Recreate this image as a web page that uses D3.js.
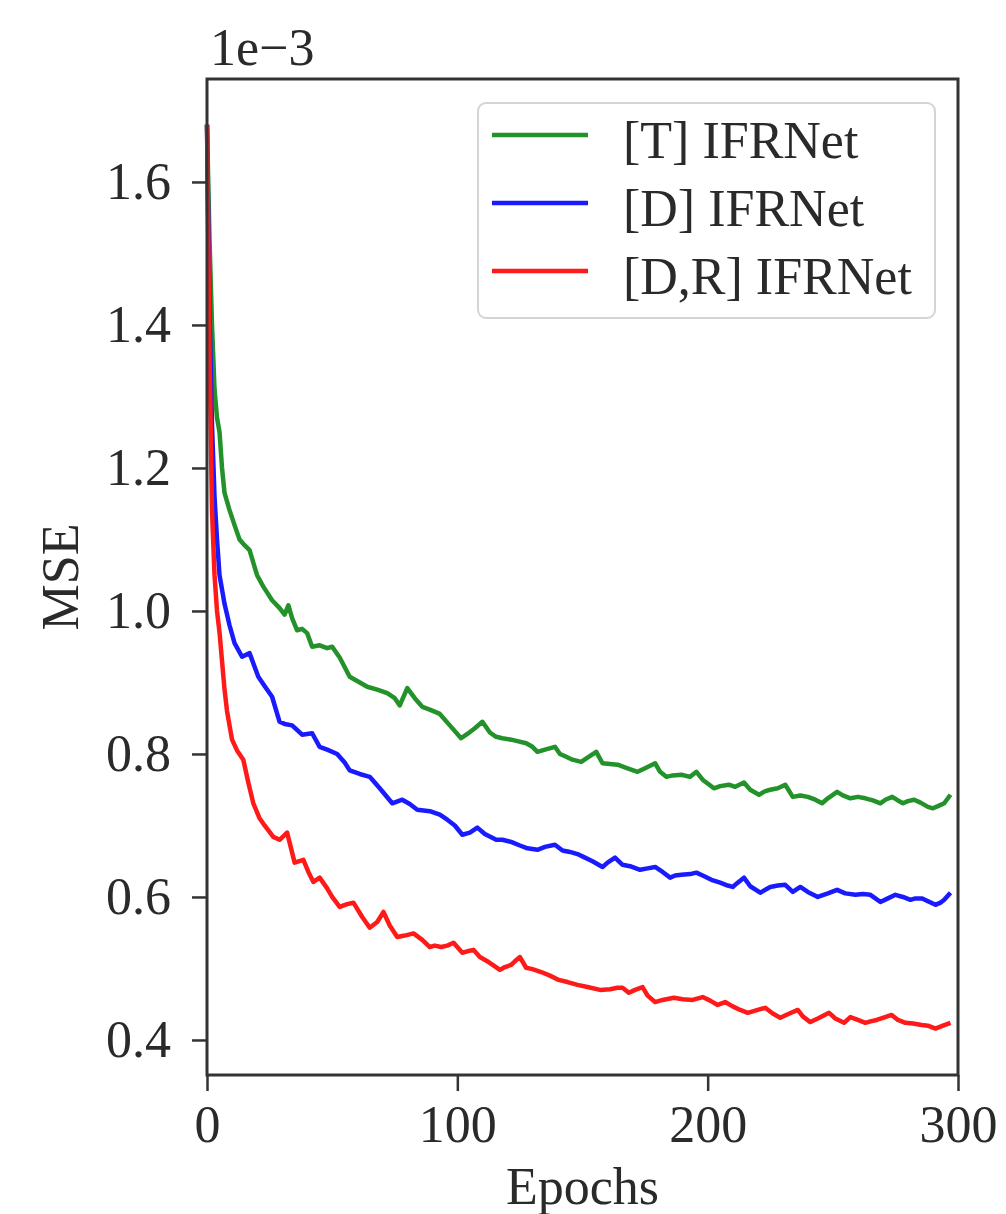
<html>
<head>
<meta charset="utf-8">
<script src="https://d3js.org/d3.v7.min.js"></script>
<style>
body { margin: 0; background-color: white; }
svg { font-family: 'Liberation Serif', 'DejaVu Serif', serif; }
</style>
</head>
<body>
<svg id="svg"></svg>
<script>

// series names + colours (matplotlib g / b / r)
var seriesNames = ["[T] IFRNet", "[D] IFRNet", "[D,R] IFRNet"];
var seriesColors = ["#23922a", "#1a1aff", "#ff1a1a"];

var xTicks = [0, 100, 200, 300];
var yTicks = [0.4, 0.6, 0.8, 1.0, 1.2, 1.4, 1.6];
var yTickLabels = ["0.4", "0.6", "0.8", "1.0", "1.2", "1.4", "1.6"];

// MSE in units of 1e-3
var epochsT = [0,1,2,3,4,5,6,7,9,11,13,15,17,20,22.5,26,29,31,32.5,34,36,38,40,42,45,48,50,53,57,60,64,68,72,75,77,80,83,86,89,93,97,101.5,104,107,110,113,115.5,118,121.5,124,127.5,130,132,135,139,141,143.5,146,149.5,152,155.5,158,161,164,168,172,175,179,181,183.5,186,189.5,193,195.5,198,202.5,205,208.5,211,214.5,217,220.5,223,225,228,231,234,237,240,243,245.7,248,251.7,254,257,260,263,266,269,271,273.7,276,278,280,282.5,285,288,290,292,294.5,297];
var mseT = [1.68,1.52,1.40,1.31,1.27,1.25,1.20,1.165,1.141,1.12,1.10,1.092,1.085,1.05,1.034,1.015,1.004,0.995,1.008,0.99,0.973,0.975,0.969,0.95,0.952,0.948,0.95,0.935,0.908,0.902,0.894,0.89,0.885,0.878,0.868,0.892,0.878,0.866,0.862,0.856,0.84,0.822,0.828,0.836,0.845,0.83,0.824,0.822,0.82,0.818,0.815,0.81,0.803,0.806,0.81,0.80,0.796,0.792,0.789,0.795,0.803,0.787,0.786,0.785,0.78,0.775,0.78,0.787,0.775,0.768,0.77,0.771,0.768,0.775,0.764,0.752,0.755,0.757,0.754,0.760,0.75,0.743,0.748,0.750,0.752,0.757,0.740,0.742,0.740,0.736,0.731,0.738,0.747,0.742,0.738,0.740,0.738,0.735,0.731,0.736,0.740,0.735,0.731,0.734,0.736,0.732,0.726,0.724,0.727,0.731,0.743];

var epochsD = [0,1,2,3,4,5,7,9,11,14,17,20.5,23,26,29,31,34,38,42,45,48,52,55,57,61,65,69,74,78,81,84,89,93,96,99,102,105,108,111,115.5,118,121.5,125,128,132,135,139,142,145,148,151,154,158,160,163,166,169,173,176,179,182,185,187,189.5,193,195.5,198,201.5,205,208,210,212,214.5,217,221,223,225,228,231,234,237,240,244,248,251.7,255,259,262,265,267,269,272,275,278,281,283,285.7,288,291,293,294.5,297];
var mseD = [1.68,1.42,1.26,1.16,1.10,1.05,1.01,0.98,0.955,0.936,0.941,0.908,0.895,0.88,0.845,0.842,0.84,0.827,0.829,0.81,0.806,0.80,0.788,0.777,0.772,0.768,0.752,0.731,0.736,0.73,0.722,0.72,0.715,0.708,0.70,0.687,0.69,0.697,0.688,0.680,0.68,0.677,0.672,0.668,0.666,0.67,0.673,0.665,0.663,0.66,0.655,0.65,0.642,0.648,0.655,0.645,0.643,0.638,0.64,0.642,0.635,0.627,0.63,0.631,0.632,0.634,0.63,0.624,0.62,0.616,0.614,0.62,0.627,0.615,0.606,0.61,0.614,0.616,0.617,0.607,0.614,0.607,0.600,0.605,0.610,0.605,0.603,0.604,0.603,0.598,0.593,0.598,0.603,0.6,0.596,0.598,0.598,0.594,0.589,0.592,0.596,0.606];

var epochsDR = [0,1,2,3,4,5,6,7,8,10,12,14.5,16.5,18.5,21,23,26.5,29,32,35,38.5,40.5,42.5,45,48,50,53,56,58.5,62,65,68,70.5,73,76,79,82.5,86,89,91,93.5,96,98.5,102,104,106.5,109,112.5,115,117,119,121.5,123,125,127.5,130,133.5,137,140.5,144,148,152,157,161,164,166,168.5,171,174,176,179,182,186.5,190,194,198,201,204,207,210,213,216,220,223,226,229,232,236,238,241,244,248.5,251,254.5,257,260,263,265,267.5,270,273.5,276,279,282,285.5,288,291,294,297];
var mseDR = [1.68,1.36,1.14,1.05,1.00,0.97,0.93,0.89,0.86,0.82,0.805,0.792,0.76,0.731,0.71,0.70,0.684,0.68,0.69,0.648,0.652,0.635,0.621,0.627,0.612,0.6,0.586,0.59,0.592,0.572,0.557,0.565,0.579,0.56,0.544,0.546,0.549,0.54,0.53,0.532,0.53,0.532,0.536,0.522,0.524,0.526,0.516,0.509,0.503,0.498,0.502,0.505,0.51,0.516,0.501,0.499,0.495,0.49,0.484,0.481,0.477,0.474,0.470,0.471,0.473,0.473,0.466,0.47,0.474,0.462,0.453,0.456,0.459,0.457,0.456,0.460,0.455,0.449,0.453,0.447,0.442,0.438,0.442,0.445,0.437,0.431,0.436,0.442,0.433,0.425,0.43,0.438,0.43,0.424,0.432,0.428,0.424,0.426,0.428,0.431,0.435,0.428,0.424,0.423,0.421,0.42,0.416,0.42,0.424];

var allEpochs = [epochsT, epochsD, epochsDR];
var allMse = [mseT, mseD, mseDR];

var width = 1006, height = 1214;
var margin = {left: 207, right: 48, top: 79, bottom: 139};
var fs = 52;

var svg = d3.select("#svg").attr("width", width).attr("height", height);

var x = d3.scaleLinear().domain([0, 300]).range([margin.left, width - margin.right]);
var y = d3.scaleLinear().domain([0.351, 1.744]).range([height - margin.bottom, margin.top]);

var line = d3.line()
	.x(function(d){ return x(d[0]); })
	.y(function(d){ return y(d[1]); });

// curves
for (var i = 0; i < allMse.length; i++) {
	var pts = allEpochs[i].map(function(e, j){ return [e, allMse[i][j]]; });
	svg.append("path")
		.datum(pts)
		.attr("d", line)
		.style("fill", "none")
		.style("stroke", seriesColors[i])
		.style("stroke-width", 4.5)
		.style("stroke-linejoin", "round");
}

// axes (ticks only, labels drawn by hand)
var xAxis = svg.append("g")
	.attr("transform", "translate(0," + (height - margin.bottom) + ")")
	.call(d3.axisBottom(x).tickValues(xTicks).tickSize(16).tickPadding(14).tickFormat(d3.format("d")));
var yAxis = svg.append("g")
	.attr("transform", "translate(" + margin.left + ",0)")
	.call(d3.axisLeft(y).tickValues(yTicks).tickSize(15).tickPadding(21)
		.tickFormat(function(d, i){ return yTickLabels[i]; }));

[xAxis, yAxis].forEach(function(g){
	g.select(".domain").remove();
	g.selectAll("line").style("stroke", "#333").style("stroke-width", 2.5);
	g.selectAll("text")
		.style("font-family", "'Liberation Serif', 'DejaVu Serif', serif")
		.style("font-size", fs + "px")
		.style("fill", "#2a2a2a");
});
xAxis.selectAll("text").attr("dy", "0.71em");

// frame
svg.append("rect")
	.attr("x", margin.left).attr("y", margin.top)
	.attr("width", width - margin.left - margin.right)
	.attr("height", height - margin.top - margin.bottom)
	.style("fill", "none").style("stroke", "#333").style("stroke-width", 3);

// offset text + axis labels
svg.append("text")
	.attr("x", 210).attr("y", 65)
	.text("1e\u22123")
	.style("font-size", fs + "px").style("fill", "#2a2a2a");

svg.append("text")
	.attr("x", (margin.left + width - margin.right) / 2).attr("y", 1204)
	.text("Epochs")
	.style("text-anchor", "middle")
	.style("font-size", fs + "px").style("fill", "#2a2a2a");

svg.append("text")
	.attr("transform", "translate(78," + ((margin.top + height - margin.bottom) / 2) + ") rotate(-90)")
	.text("MSE")
	.style("text-anchor", "middle")
	.style("font-size", fs + "px").style("fill", "#2a2a2a");

// legend
var legend = svg.append("g");
legend.append("rect")
	.attr("x", 478).attr("y", 103).attr("width", 457).attr("height", 215)
	.attr("rx", 8)
	.style("fill", "white").style("fill-opacity", 0.8)
	.style("stroke", "#d4d4d4").style("stroke-width", 2);

for (var k = 0; k < seriesNames.length; k++) {
	var ly = 135 + k * 68;
	legend.append("line")
		.attr("x1", 492).attr("x2", 588)
		.attr("y1", ly).attr("y2", ly)
		.style("stroke", seriesColors[k]).style("stroke-width", 4.5);
	legend.append("text")
		.attr("x", 623).attr("y", ly + 23)
		.text(seriesNames[k])
		.style("font-size", fs + "px").style("fill", "#2a2a2a");
}

</script>
</body>
</html>
